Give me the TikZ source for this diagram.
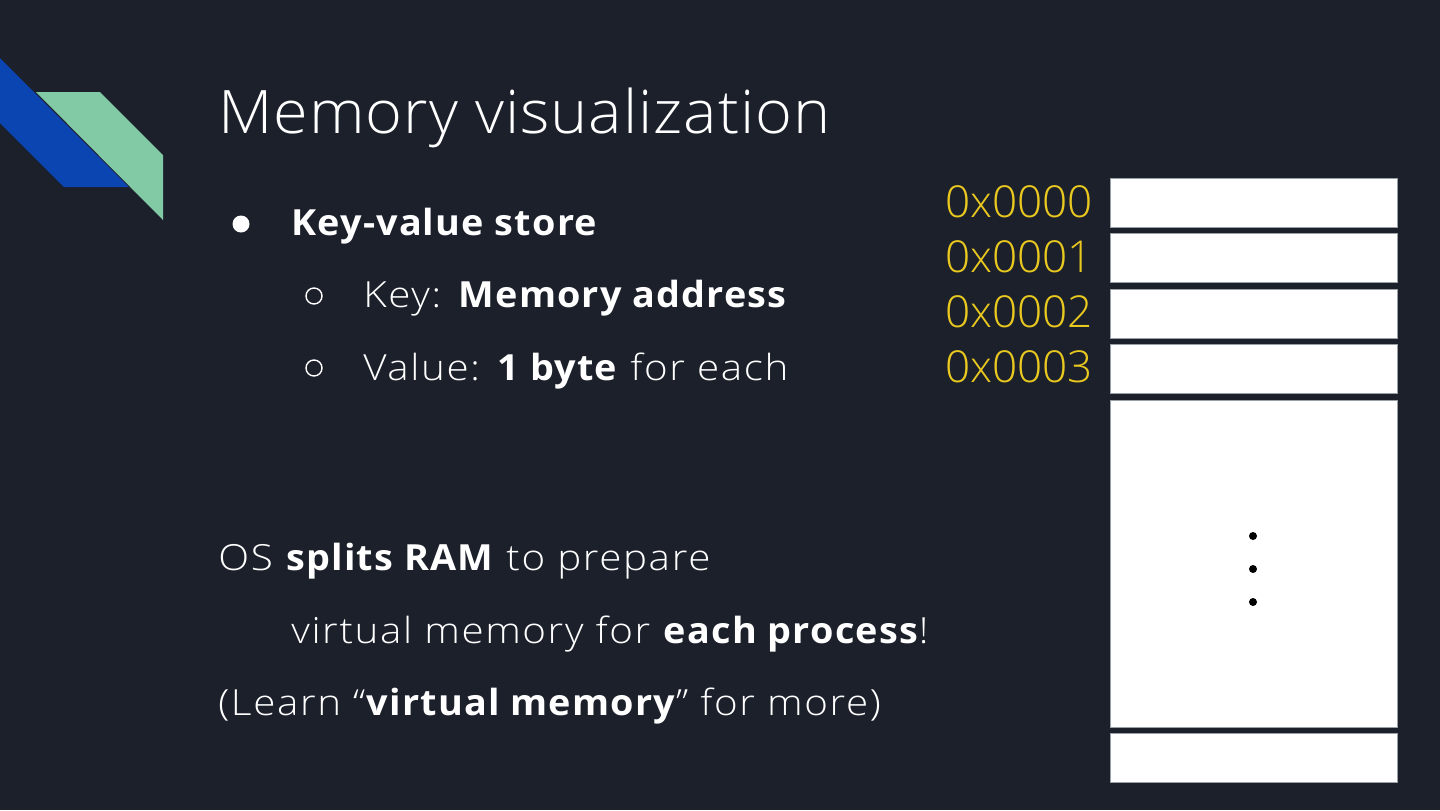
\documentclass[tikz,border=0pt]{standalone}
\usepackage{fontspec}
\setmainfont{Open Sans Light}[BoldFont={Open Sans Bold}, FakeStretch=1.12, LetterSpace=4.5, BoldFeatures={FakeStretch=1.05, LetterSpace=3.2}, WordSpace=1.0]
\newfontfamily\titlefont{Open Sans Light}[FakeStretch=1.05, LetterSpace=1.6]
\newfontfamily\addrfont{Open Sans Light}
\definecolor{bgc}{HTML}{1C202B}
\definecolor{deepblue}{HTML}{0A45B2}
\definecolor{mint}{HTML}{82C9A6}
\definecolor{addr}{HTML}{E9C81F}
\definecolor{cellline}{HTML}{9AA0A8}
\tikzset{
  txt/.style={anchor=base west, inner sep=0pt, text=white, font=\fontsize{18}{22}\selectfont},
  addrlabel/.style={anchor=base east, inner sep=0pt, text=addr, font=\addrfont\fontsize{22}{26}\selectfont},
  cell/.style={fill=white, draw=cellline, line width=0.4pt},
  dotmark/.style={fill=black, draw=none},
  bulletfull/.style={fill=white, draw=none},
  bulletopen/.style={draw=white, line width=0.7pt}
}
\begin{document}
\begin{tikzpicture}[x=0.5pt, y=-0.5pt]
\fill[bgc] (0,0) rectangle (1440,810);
\useasboundingbox (0,0) rectangle (1440,810);
% decoration
\fill[deepblue] (0,58) -- (129,187) -- (64,187) -- (0,123) -- cycle;
\fill[mint] (36,92) -- (100,92) -- (163,155) -- (163,220) -- cycle;
% title
\node[txt, font=\titlefont\fontsize{30}{36}\selectfont] (title) at (218,133) {Memory visualization};
% bullets
\fill[bulletfull] (241,224) circle (8.5);
\node[txt] (kv) at (291,235) {\textbf{Key-value store}};
\draw[bulletopen] (314,296) circle (8);
\node[txt] (key) at (363,307) {Key: \textbf{Memory address}};
\draw[bulletopen] (314,368) circle (8);
\node[txt] (val) at (363,380) {Value: \textbf{1 byte} for each};
% lower text
\node[txt] (os) at (218,570) {OS \textbf{splits RAM} to prepare};
\node[txt] (vm) at (291,643) {virtual memory for \textbf{each process}!};
\node[txt] (learn) at (218,715) {(Learn “\textbf{virtual memory}” for more)};
% memory cells
\path[cell] (1110,178) rectangle (1397,227);
\path[cell] (1110,233) rectangle (1397,282);
\path[cell] (1110,289) rectangle (1397,338);
\path[cell] (1110,344) rectangle (1397,393);
\path[cell] (1110,400) rectangle (1397,727);
\path[cell] (1110,733) rectangle (1397,782);
\fill[dotmark] (1253,536) circle (4);
\fill[dotmark] (1253,569) circle (4);
\fill[dotmark] (1253,602) circle (4);
% addresses
\node[addrlabel] (a0) at (1093,217) {0x0000};
\node[addrlabel] (a1) at (1093,272) {0x0001};
\node[addrlabel] (a2) at (1093,327) {0x0002};
\node[addrlabel] (a3) at (1093,382) {0x0003};
\end{tikzpicture}
\end{document}
